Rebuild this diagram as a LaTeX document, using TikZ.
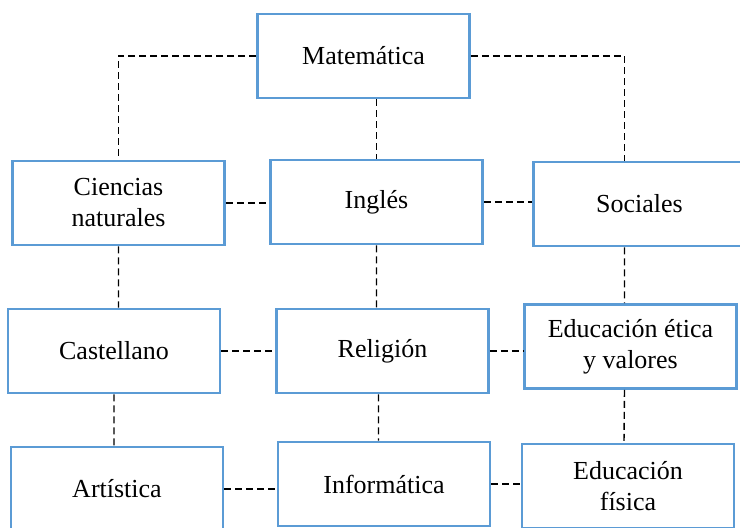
\documentclass[tikz,border=0pt]{standalone}
\usepackage{fontspec}
\setmainfont{Liberation Serif}
\usepackage{xcolor}
\definecolor{boxblue}{RGB}{91,155,213}

\begin{document}
\begin{tikzpicture} [ x=0.5pt, y=-0.5pt,
    subject/.style={draw=boxblue, line width=1.3pt, minimum width=106pt,
        minimum height=42pt, align=center, inner sep=2pt,
        font=\fontsize{13pt}{15.5pt}\selectfont},
    link/.style={draw, line width=0.7pt, dash pattern=on 3.5pt off 2pt},
    ]
    \useasboundingbox (0,0) rectangle (740,527);

    \node[subject] (mat) at (363.5,56) {Matem\'atica};
    \node[subject] (cien) at (118.5,203) {Ciencias\\naturales};
    \node[subject] (ingl) at (376.5,202) {Ingl\'es};
    \node[subject] (soc) at (639.5,204) {Sociales};
    \node[subject] (cast) at (114,351) {Castellano};
    \node[subject] (reli) at (382.5,351) {Religi\'on};
    \node[subject] (etica) at (630.5,346.5) {Educaci\'on \'etica\\y valores};
    \node[subject] (arti) at (117,489) {Art\'istica};
    \node[subject] (info) at (384,484) {Inform\'atica};
    \node[subject] (fisi) at (628,486) {Educaci\'on\\f\'isica};

    % top row
    \draw[link] (mat.west) -| (cien.north)
    (mat.east) -| ([xshift=-7.5pt]soc.north)
    (ingl.north |- mat.south) -- (ingl.north)
    ;

    % horizontal links
    \draw[link] (cien.east) -- (cien.east -| ingl.west)
    (ingl.east) -- (ingl.east -| soc.west)
    (cast.east) -- (cast.east -| reli.west)
    (reli.east) -- (reli.east -| etica.west)
    (arti.east) -- (arti.east -| info.west)
    (info.east) -- (info.east -| fisi.west)
    ;

    % vertical links
    \draw[link] (cien.south) -- (cien.south |- cast.north)
    (ingl.south) -- (ingl.south |- reli.north)
    ([xshift=-7.5pt]soc.south) -- ([xshift=-3pt]etica.north)
    (cast.south) -- (cast.south |- arti.north)
    ([xshift=-2pt]reli.south) -- ([xshift=-2pt]reli.south |- info.north)
    ([xshift=-3pt]etica.south) -- ([xshift=-2pt]fisi.north)
    ;

\end{tikzpicture}
\end{document}
